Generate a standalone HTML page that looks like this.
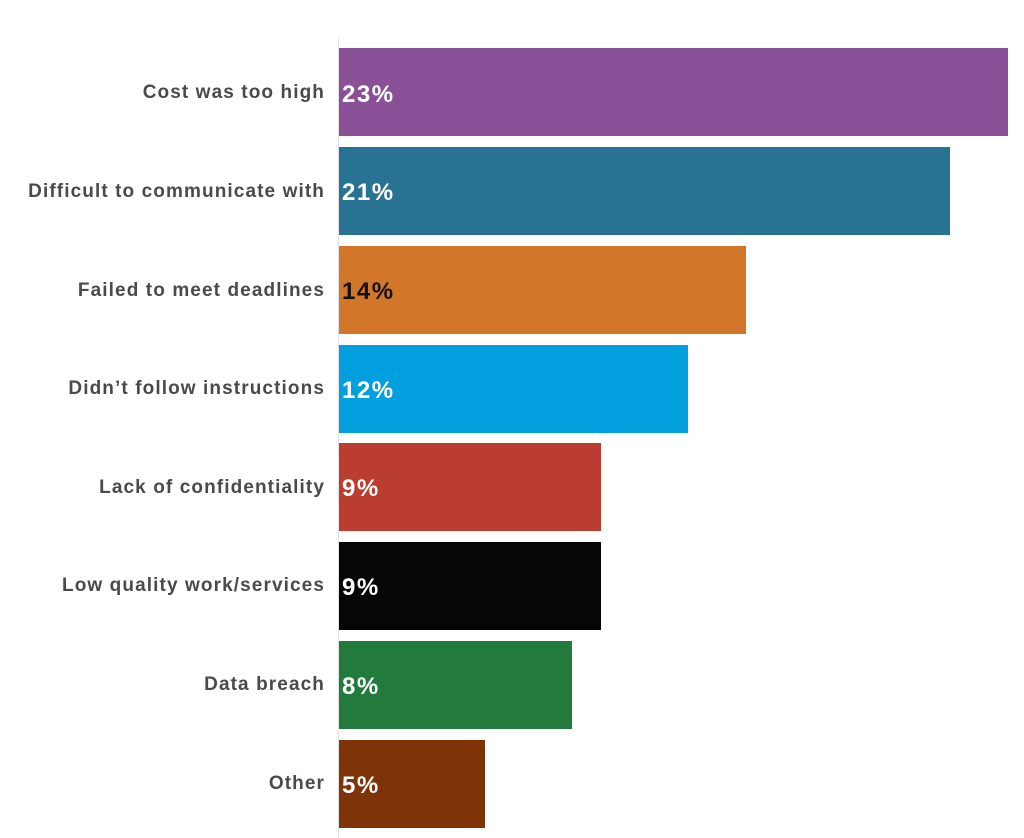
<!DOCTYPE html>
<html><head><meta charset="utf-8"><style>
html,body{margin:0;padding:0;background:#fff;}
body{width:1024px;height:838px;position:relative;overflow:hidden;font-family:"Liberation Sans",sans-serif;}
.axis{position:absolute;left:338px;top:38px;width:1px;height:800px;background:#e2e2e2;}
.bar{position:absolute;left:339px;height:88px;}
.lab{position:absolute;right:699px;font-weight:bold;font-size:19px;letter-spacing:1.1px;color:#4a4a4a;white-space:nowrap;line-height:20px;}
.val{position:absolute;left:342px;font-weight:bold;font-size:24px;letter-spacing:1.5px;color:#fff;line-height:24px;}
</style></head><body>
<div class="axis"></div>

<div class="bar" style="top:48px;width:669px;background:#8a5097"></div>
<div class="lab" style="top:83px">Cost was too high</div>
<div class="val" style="top:83px">23%</div>

<div class="bar" style="top:147px;width:611px;background:#287394"></div>
<div class="lab" style="top:182px">Difficult to communicate with</div>
<div class="val" style="top:181px">21%</div>

<div class="bar" style="top:246px;width:407px;background:#d27729"></div>
<div class="lab" style="top:281px">Failed to meet deadlines</div>
<div class="val" style="top:280px;color:#111">14%</div>

<div class="bar" style="top:345px;width:349px;background:#019fde"></div>
<div class="lab" style="top:379px">Didn’t follow instructions</div>
<div class="val" style="top:379px">12%</div>

<div class="bar" style="top:443px;width:262px;background:#bb3d30"></div>
<div class="lab" style="top:478px">Lack of confidentiality</div>
<div class="val" style="top:477px">9%</div>

<div class="bar" style="top:542px;width:262px;background:#060606"></div>
<div class="lab" style="top:576px">Low quality work/services</div>
<div class="val" style="top:576px">9%</div>

<div class="bar" style="top:641px;width:233px;background:#237a3d"></div>
<div class="lab" style="top:675px">Data breach</div>
<div class="val" style="top:675px">8%</div>

<div class="bar" style="top:740px;width:146px;background:#7f3309"></div>
<div class="lab" style="top:774px">Other</div>
<div class="val" style="top:774px">5%</div>
</body></html>
